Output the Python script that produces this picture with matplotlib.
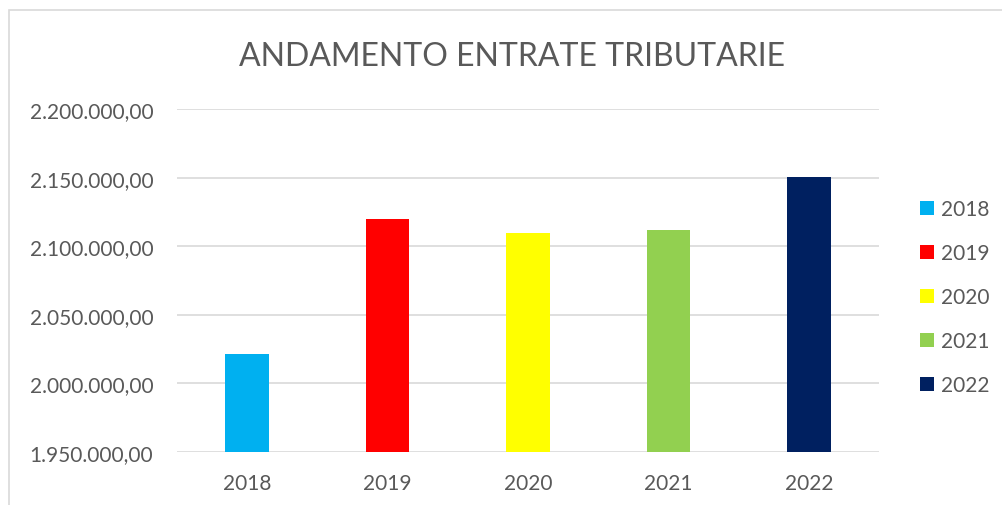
import matplotlib.pyplot as plt
from matplotlib.patches import Patch, Rectangle
from matplotlib.ticker import FuncFormatter, MultipleLocator

plt.rcParams['font.family'] = ['Lato', 'DejaVu Sans']

anni = ['2018', '2019', '2020', '2021', '2022']
entrate = [2021200, 2119700, 2109500, 2111600, 2150300]
colori = ['#00b0f0', '#ff0000', '#ffff00', '#92d050', '#002060']

grigio = '#595959'

def formato_it(v, pos):
    s = f"{v:,.2f}"
    return s.replace(",", "X").replace(".", ",").replace("X", ".")

fig = plt.figure(figsize=(10.02, 5.06), dpi=100)
ax = fig.add_axes([177 / 1002, 1 - 453 / 506, 702 / 1002, 343 / 506])

x = range(len(anni))
ax.bar(x, entrate, width=0.31, color=colori, zorder=3)

ax.set_ylim(1950000, 2200000)
ax.set_xlim(-0.5, len(anni) - 0.5)
ax.yaxis.set_major_locator(MultipleLocator(50000))
ax.yaxis.set_major_formatter(FuncFormatter(formato_it))
ax.set_xticks(list(x))
ax.set_xticklabels(anni)
ax.grid(axis='y', color='#d9d9d9', linewidth=1.2, zorder=0)
for lato in ['top', 'right', 'left', 'bottom']:
    ax.spines[lato].set_visible(False)
ax.tick_params(axis='y', length=0, pad=17, labelsize=15, labelcolor=grigio)
ax.tick_params(axis='x', length=0, pad=15, labelsize=15, labelcolor=grigio)

fig.text(0.511, 1 - 57 / 506, 'ANDAMENTO ENTRATE TRIBUTARIE', ha='center', va='center',
         fontsize=23, color=grigio)

maniglie = [Patch(facecolor=c, edgecolor='none') for c in colori]
leg = fig.legend(maniglie, anni, loc='center left', bbox_to_anchor=(912 / 1002, 1 - 298 / 506),
                 frameon=False, fontsize=15, handlelength=0.67, handleheight=0.67,
                 handletextpad=0.3, labelspacing=1.15, borderaxespad=0)
for t in leg.get_texts():
    t.set_color(grigio)

# bordo del grafico
fig.patches.append(Rectangle((9 / 1002, -0.1), 1.1, 1 - 11 / 506 + 0.1, transform=fig.transFigure,
                             fill=False, edgecolor='#d9d9d9', linewidth=1.2))

fig.savefig('out.png', dpi=100)
